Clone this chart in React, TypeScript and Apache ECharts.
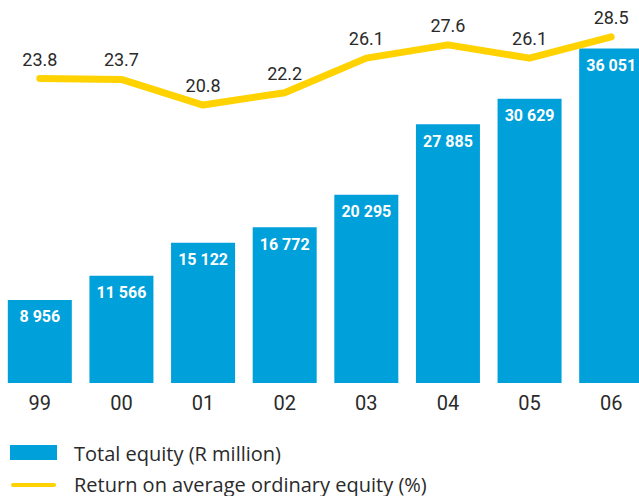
import React, { useEffect, useRef } from "react";
import * as echarts from "echarts";

const categories = ["99", "00", "01", "02", "03", "04", "05", "06"];
const totalEquity = [8956, 11566, 15122, 16772, 20295, 27885, 30629, 36051];
const returnOnEquity = [23.8, 23.7, 20.8, 22.2, 26.1, 27.6, 26.1, 28.5];
const seriesNames = ["Total equity (R million)", "Return on average ordinary equity (%)"];

const BLUE = "#00A0DA";
const YELLOW = "#FFD200";
const TEXT = "#2a2a2a";
const FONT = "Roboto";

const fmt = (v: number) => String(v).replace(/\B(?=(\d{3})+(?!\d))/g, " ");

export default function App() {
  const ref = useRef<HTMLDivElement>(null);
  useEffect(() => {
    if (!ref.current) return;
    const chart = echarts.init(ref.current, null, { renderer: "svg" });
    chart.setOption({
      animation: false,
      backgroundColor: "#ffffff",
      grid: { left: -1, width: 653, top: 13, bottom: 113, outerBoundsMode: "none", containLabel: false },
      xAxis: {
        type: "category",
        data: categories,
        axisLine: { show: false },
        axisTick: { show: false },
        axisLabel: { color: TEXT, fontSize: 20, fontFamily: FONT, margin: 10 },
      },
      yAxis: [
        { type: "value", min: 0, max: 39870, show: false },
        { type: "value", min: -10.6, max: 31.2, show: false },
      ],
      series: [
        {
          name: seriesNames[0],
          type: "bar",
          data: totalEquity,
          barWidth: 64,
          itemStyle: { color: BLUE },
          label: {
            show: true,
            position: "insideTop",
            distance: 9,
            color: "#ffffff",
            fontWeight: "bold",
            fontSize: 16,
            fontFamily: FONT,
            formatter: (p: any) => fmt(p.value),
          },
        },
        {
          name: seriesNames[1],
          type: "line",
          yAxisIndex: 1,
          data: returnOnEquity,
          symbol: "circle",
          symbolSize: 1,
          itemStyle: { color: YELLOW },
          lineStyle: { color: YELLOW, width: 7, cap: "round", join: "round" },
          label: {
            show: true,
            position: "top",
            distance: 10,
            color: TEXT,
            fontSize: 18,
            fontFamily: FONT,
            formatter: (p: any) => p.value.toFixed(1),
          },
        },
      ],
      graphic: [
        { type: "rect", shape: { x: 10, y: 445, width: 47, height: 15 }, style: { fill: BLUE } },
        {
          type: "text",
          x: 74,
          y: 453,
          style: { text: seriesNames[0], fill: TEXT, fontSize: 20, fontFamily: "Open Sans", verticalAlign: "middle" },
        },
        {
          type: "line",
          shape: { x1: 13, y1: 485, x2: 54, y2: 485 },
          style: { stroke: YELLOW, lineWidth: 4, lineCap: "round" },
        },
        {
          type: "text",
          x: 74,
          y: 484,
          style: { text: seriesNames[1], fill: TEXT, fontSize: 20, fontFamily: "Open Sans", verticalAlign: "middle" },
        },
      ],
    });
    return () => chart.dispose();
  }, []);
  return (
    <div
      ref={ref}
      style={{ position: "absolute", left: 0, top: 0, width: 639, height: 496, overflow: "hidden" }}
    />
  );
}
